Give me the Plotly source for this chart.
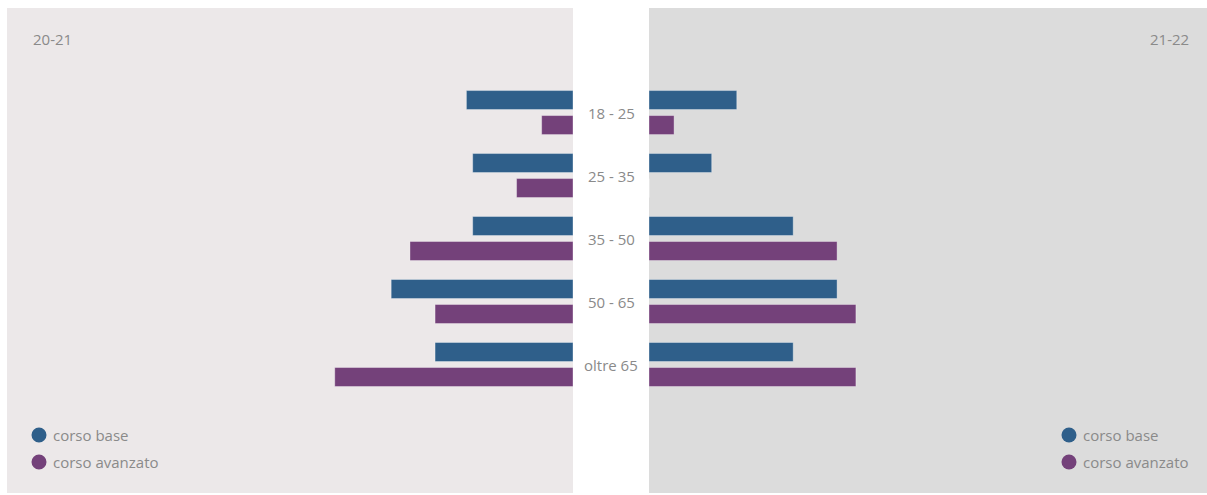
import plotly.graph_objects as go

# Age bands and participant counts per course, two school years
age_bands = ["18 - 25", "25 - 35", "35 - 50", "50 - 65", "oltre 65"]
base_2021 = [17, 16, 16, 29, 22]
advanced_2021 = [5, 9, 26, 22, 38]
base_2122 = [14, 10, 23, 30, 23]
advanced_2122 = [4, 0, 30, 33, 33]

series_names = ["corso base", "corso avanzato"]
year_labels = ["20-21", "21-22"]

COL_BASE = "#2f5f8a"
COL_ADV = "#74417a"
TEXT_COL = "#8a8a8a"
FONT = "Open Sans"

W, H = 1207, 495

fig = go.Figure()

bar_line = dict(width=1, color="rgba(255,255,255,0.35)")

# left panel (20-21): bars grow leftwards from the centre
fig.add_trace(go.Bar(y=age_bands, x=base_2021, orientation="h", name=series_names[0],
                     marker=dict(color=COL_BASE, line=bar_line), xaxis="x", yaxis="y",
                     showlegend=False, hoverinfo="x"))
fig.add_trace(go.Bar(y=age_bands, x=advanced_2021, orientation="h", name=series_names[1],
                     marker=dict(color=COL_ADV, line=bar_line), xaxis="x", yaxis="y",
                     showlegend=False, hoverinfo="x"))
# right panel (21-22)
fig.add_trace(go.Bar(y=age_bands, x=base_2122, orientation="h", name=series_names[0],
                     marker=dict(color=COL_BASE, line=bar_line), xaxis="x2", yaxis="y",
                     showlegend=False, hoverinfo="x"))
fig.add_trace(go.Bar(y=age_bands, x=advanced_2122, orientation="h", name=series_names[1],
                     marker=dict(color=COL_ADV, line=bar_line), xaxis="x2", yaxis="y",
                     showlegend=False, hoverinfo="x"))

left_dom = [7 / W, 573 / W]
right_dom = [649 / W, 1.0]
px_per_unit = 6.27

hidden = dict(showgrid=False, zeroline=False, showticklabels=False, showline=False, ticks="")

fig.update_layout(
    width=W, height=H,
    margin=dict(l=0, r=0, t=0, b=0),
    paper_bgcolor="white", plot_bgcolor="rgba(0,0,0,0)",
    barmode="group", bargap=0.206, bargroupgap=0.24,
    font=dict(family=FONT, color=TEXT_COL, size=15),
    xaxis=dict(domain=left_dom, range=[(573 - 7) / px_per_unit, 0], fixedrange=True, **hidden),
    xaxis2=dict(domain=right_dom, range=[0, (W - 649) / px_per_unit], anchor="y",
                fixedrange=True, **hidden),
    yaxis=dict(domain=[(H - 493) / H, (H - 8) / H], range=[6.04, -1.66],
               type="category", categoryorder="array", categoryarray=age_bands,
               fixedrange=True, **hidden),
)

# panel backgrounds
fig.add_shape(type="rect", xref="x domain", yref="y domain", x0=0, x1=1, y0=0, y1=1,
              fillcolor="#ece8e9", line=dict(width=0), layer="below")
fig.add_shape(type="rect", xref="x2 domain", yref="y domain", x0=0, x1=1, y0=0, y1=1,
              fillcolor="#dcdcdc", line=dict(width=0), layer="below")

# centre age labels
for band in age_bands:
    fig.add_annotation(x=611 / W, xref="paper", y=band, yref="y", text=band,
                       showarrow=False, xanchor="center", yanchor="middle",
                       font=dict(size=15, color=TEXT_COL, family=FONT))

# year labels
fig.add_annotation(x=31 / W, xref="paper", y=(H - 39) / H, yref="paper", text=year_labels[0],
                   showarrow=False, xanchor="left", yanchor="middle",
                   font=dict(size=15, color=TEXT_COL, family=FONT))
fig.add_annotation(x=1191 / W, xref="paper", y=(H - 39) / H, yref="paper", text=year_labels[1],
                   showarrow=False, xanchor="right", yanchor="middle",
                   font=dict(size=15, color=TEXT_COL, family=FONT))

# legends (dot + label) in each panel
def legend_item(cx, cy, color, label):
    r = 7.5
    fig.add_shape(type="circle", xref="paper", yref="paper",
                  xsizemode="pixel", ysizemode="pixel",
                  xanchor=cx / W, yanchor=(H - cy) / H,
                  x0=-r, x1=r, y0=-r, y1=r,
                  fillcolor=color, line=dict(width=0))
    fig.add_annotation(x=(cx + 12) / W, xref="paper", y=(H - cy) / H, yref="paper",
                       text=label, showarrow=False, xanchor="left", yanchor="middle",
                       font=dict(size=15, color=TEXT_COL, family=FONT))

legend_item(39, 435, COL_BASE, series_names[0])
legend_item(39, 462, COL_ADV, series_names[1])
legend_item(1069, 435, COL_BASE, series_names[0])
legend_item(1069, 462, COL_ADV, series_names[1])

fig.write_html("out.html")
